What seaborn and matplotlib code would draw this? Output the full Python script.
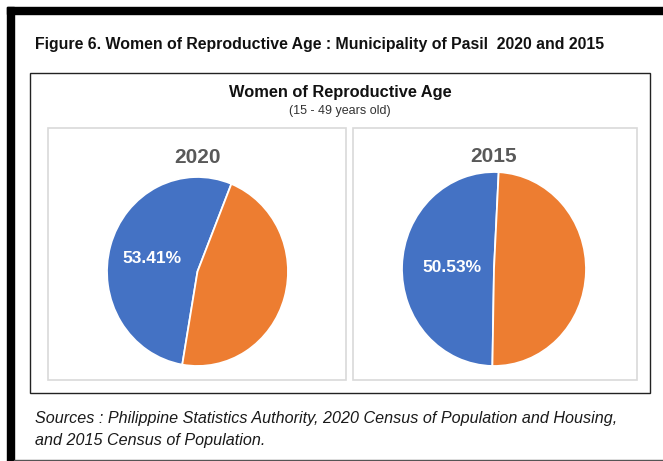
import matplotlib
matplotlib.use("agg")
import matplotlib.pyplot as plt
import seaborn as sns
from matplotlib.patches import Rectangle

# data
years = ["2020", "2015"]
categories = ["Women 15-49", "Others"]
shares_2020 = [53.41, 46.59]
shares_2015 = [50.53, 49.47]
slice_colors = ["#4472C4", "#ED7D31"]

W, H = 663, 461

sns.set_theme(style="white")
plt.rcParams["font.family"] = ["Liberation Sans", "DejaVu Sans"]


def fx(px):
    return px / W


def fy(py):
    return 1 - py / H


def box(x0, y0, x1, y1):
    # figure-fraction rect from pixel corners (top-left origin)
    return [fx(x0), fy(y1), (x1 - x0) / W, (y1 - y0) / H]


fig = plt.figure(figsize=(W / 100, H / 100), dpi=100)
fig.patch.set_facecolor("white")

# outer frame (thick black top and left, thin bottom)
fig.patches.append(Rectangle((fx(7), fy(14)), 1 - fx(7), 7 / H, transform=fig.transFigure,
                             color="black", zorder=0))
fig.patches.append(Rectangle((fx(7), 0), 7 / W, fy(7), transform=fig.transFigure,
                             color="black", zorder=0))
fig.patches.append(Rectangle((fx(14), 0), 1 - fx(14), 1.5 / H, transform=fig.transFigure,
                             color="#555555", zorder=0))

# chart box
fig.patches.append(Rectangle((fx(30), fy(393)), 620 / W, 320 / H, transform=fig.transFigure,
                             fill=False, edgecolor="#222222", linewidth=1.0))
# plot-area panels
for x0, x1 in [(48, 346), (353, 637)]:
    fig.patches.append(Rectangle((fx(x0), fy(380)), (x1 - x0) / W, 252 / H,
                                 transform=fig.transFigure, fill=False,
                                 edgecolor="#D9D9D9", linewidth=1.2))

fig.text(fx(35), fy(44), "Figure 6. Women of Reproductive Age : Municipality of Pasil  2020 and 2015",
         fontsize=11.4, fontweight="bold", color="#111111", ha="left", va="center")
fig.text(fx(340), fy(92), "Women of Reproductive Age", fontsize=11.8, fontweight="bold",
         color="#111111", ha="center", va="center")
fig.text(fx(340), fy(111), "(15 - 49 years old)", fontsize=9, color="#333333",
         ha="center", va="center")
fig.text(fx(35), fy(418), "Sources : Philippine Statistics Authority, 2020 Census of Population and Housing,",
         fontsize=11.6, fontstyle="italic", color="#1a1a1a", ha="left", va="center")
fig.text(fx(35), fy(440), "and 2015 Census of Population.",
         fontsize=11.6, fontstyle="italic", color="#1a1a1a", ha="left", va="center")

pies = [
    (years[0], shares_2020, box(107, 177, 288, 366), -99.7, 0.52, 10),
    (years[1], shares_2015, box(402, 172, 586, 366), -91.0, 0.46, 7),
]

for year, shares, rect, start, pctd, pad in pies:
    ax = fig.add_axes(rect)
    wedges, texts, autotexts = ax.pie(
        shares, colors=slice_colors, startangle=start, counterclock=False,
        autopct=lambda p: f"{p:.2f}%", pctdistance=pctd,
        wedgeprops=dict(edgecolor="white", linewidth=1.3),
        textprops=dict(color="white", fontsize=12.5, fontweight="bold"),
    )
    autotexts[1].set_text("")
    ax.set_aspect("auto")
    ax.set_xlim(-1.0, 1.0)
    ax.set_ylim(-1.0, 1.0)
    for w in wedges:
        w.set_clip_on(False)
    ax.axis("off")
    ax.set_title(year, fontsize=15, fontweight="bold", color="#595959", pad=pad)

fig.savefig("out.png", dpi=100)
